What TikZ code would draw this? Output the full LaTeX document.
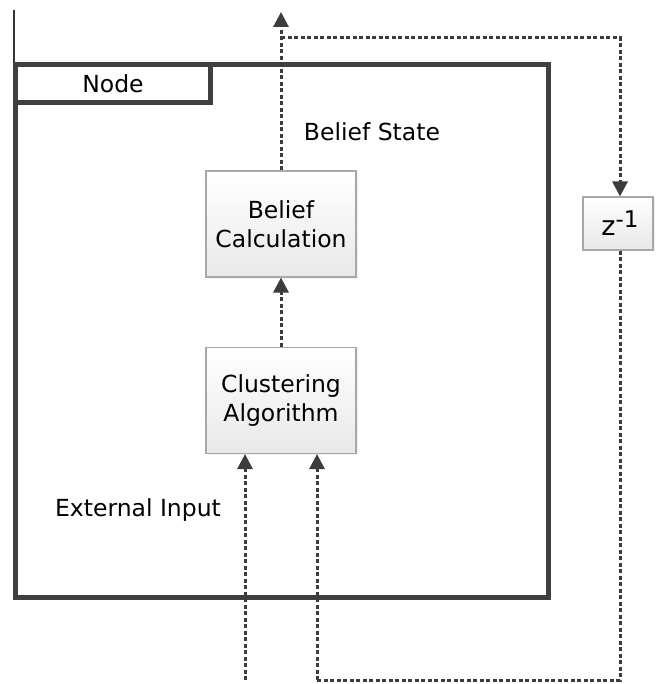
\documentclass[tikz,border=0pt]{standalone}
\usepackage{fontspec}
\setmainfont{DejaVu Sans}
\usetikzlibrary{arrows.meta,shadows}
\definecolor{frame}{HTML}{404040}
\definecolor{flow}{HTML}{3C3C3C}
\definecolor{boxedge}{HTML}{A8A8A8}
\tikzset{
  procbox/.style={draw=boxedge, line width=1.1pt, top color=white, bottom color=black!9,
    minimum width=150pt, minimum height=106pt, align=center, inner sep=0pt,
    font=\fontsize{23.5}{29}\selectfont, drop shadow={opacity=0.12, shadow xshift=1.5pt, shadow yshift=-1.5pt}},
  delaybox/.style={procbox, minimum width=70pt, minimum height=53pt},
  flowline/.style={draw=flow, line width=3pt, dash pattern=on 4pt off 2.5pt},
  flowarrow/.style={flowline, -{Triangle[length=15pt,width=15pt]}},
  label/.style={font=\fontsize{23.5}{29}\selectfont, inner sep=0pt}
}
\begin{document}
\begin{tikzpicture}[x=1pt,y=-1pt]
\useasboundingbox (0,0) rectangle (660,684);

% outer node frame and its title tab
\draw[line width=1.6pt, draw=black!80] (14,10) -- (14,345);
\draw[frame, line width=5pt] (15,65) rectangle (548,597);
\draw[frame, line width=5pt, fill=white] (15,65) rectangle (210,103);
\node[label] (nodetitle) at (113,84) {Node};

% processing blocks
\node[procbox] (belief) at (281,224) {Belief\\Calculation};
\node[procbox] (cluster) at (281,400.5) {Clustering\\Algorithm};
\node[delaybox, font=\fontsize{27}{30}\selectfont] (delay) at (618,223.5)
  {\hspace*{4pt}z\raisebox{8pt}{\fontsize{23}{26}\selectfont -1}};

% text labels
\node[label] (bstate) at (372,132) {Belief State};
\node[label] (extin) at (138,510) {External Input};

% connection points
\coordinate (outtop) at (281,12);
\coordinate (split) at (281,38);
\coordinate (fbcorner) at (620,38);
\coordinate (fbbottom) at (620,680);
\coordinate (fbleft) at (317,680);
\coordinate (extsrc) at (245,680);

% connectors
\draw[flowarrow] (belief.north) -- (outtop);
\draw[flowarrow] (split) -- (fbcorner) -- (delay.north -| fbcorner);
\draw[flowline] (delay.south -| fbcorner) -- (fbbottom) -- (fbleft);
\draw[flowarrow] (fbleft) -- (fbleft |- cluster.south);
\draw[flowarrow] (cluster.north) -- (belief.south);
\draw[flowarrow] (extsrc) -- (extsrc |- cluster.south);
\end{tikzpicture}
\end{document}
